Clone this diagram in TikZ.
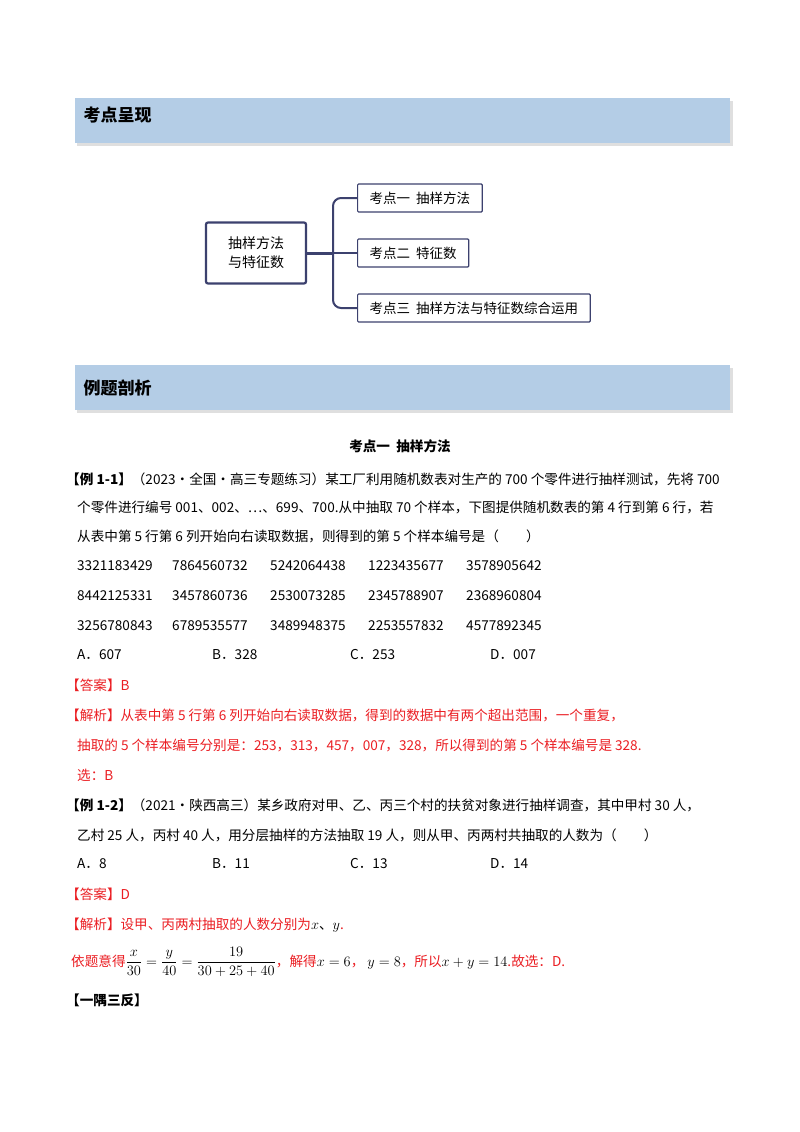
\documentclass[tikz,border=0pt]{standalone}
\usepackage{amsmath}
\usepackage{fontspec}
\setmainfont{Liberation Serif}
\newfontfamily\cjk{Noto Sans CJK SC}
\definecolor{barblue}{RGB}{180,205,230}
\definecolor{navy}{RGB}{60,65,110}
\definecolor{ansred}{RGB}{235,30,35}
\begin{document}
\begin{tikzpicture}[x=1pt,y=-1pt,
  bar/.style={fill=barblue,draw=none},
  bartxt/.style={anchor=west,font=\cjk\bfseries\fontsize{17}{17}\selectfont},
  ln/.style={anchor=west,inner sep=0pt,font=\cjk\fontsize{13.6}{15}\selectfont},
  rd/.style={ln,text=ansred},
  kbox/.style={draw=navy,line width=1.2pt,rounded corners=1pt,fill=white,anchor=west,minimum height=28pt,inner xsep=12pt,font=\cjk\fontsize{13.5}{15}\selectfont},
  br/.style={draw=navy,line width=2pt,rounded corners=8pt}]
\useasboundingbox (0,0) rectangle (800,1132);
\fill[white] (0,0) rectangle (800,1132);
% header bars
\fill[gray!25] (77,101) rectangle (733,146);
\fill[bar] (75,98) rectangle (730,143);
\node[bartxt] (h1) at (80,115) {考点呈现};
\fill[gray!25] (77,368) rectangle (733,413);
\fill[bar] (75,365) rectangle (730,410);
\node[bartxt] (h2) at (80,388) {例题剖析};
% mindmap
\node[draw=navy,line width=2.2pt,rounded corners=2pt,minimum width=100pt,minimum height=61pt,align=center,font=\cjk\fontsize{14}{19}\selectfont] (c) at (256,253) {抽样方法\\与特征数};
\node[kbox] (k1) at (357,198) {考点一\ \ 抽样方法};
\node[kbox] (k2) at (357,253) {考点二\ \ 特征数};
\node[kbox] (k3) at (357,308) {考点三\ \ 抽样方法与特征数综合运用};
\coordinate (j) at (333,253);
\draw[br] (k1.west) -| (j) |- (k3.west);
\draw[navy,line width=3pt] (c.east) -- (j);
\draw[navy,line width=1.5pt] (j) -- (k2.west);
% body
\node[ln,font=\cjk\bfseries\fontsize{13.6}{15}\selectfont,anchor=center] (t1) at (400,446) {考点一\ \ 抽样方法};
\node[ln] (l1) at (66,479) {\textbf{【例 1-1】}（2023·全国·高三专题练习）某工厂利用随机数表对生产的 700 个零件进行抽样测试，先将 700};
\node[ln] (l2) at (77,507) {个零件进行编号 001、002、…、699、700.从中抽取 70 个样本，下图提供随机数表的第 4 行到第 6 行，若};
\node[ln] (l3) at (77,536) {从表中第 5 行第 6 列开始向右读取数据，则得到的第 5 个样本编号是（\qquad）};
\foreach \r/\y/\a/\b/\c/\d/\e in {0/566/3321183429/7864560732/5242064438/1223435677/3578905642,
  1/596/8442125331/3457860736/2530073285/2345788907/2368960804,
  2/626/3256780843/6789535577/3489948375/2253557832/4577892345}{
  \node[ln] (r\r a) at (77,\y) {\a};
  \node[ln] (r\r b) at (172,\y) {\b};
  \node[ln] (r\r c) at (270,\y) {\c};
  \node[ln] (r\r d) at (368,\y) {\d};
  \node[ln] (r\r e) at (466,\y) {\e};
}
\node[ln] (o1) at (77,655) {A．607};
\node[ln] (o2) at (212,655) {B．328};
\node[ln] (o3) at (350,655) {C．253};
\node[ln] (o4) at (490,655) {D．007};
\node[rd] (a1) at (66,685) {【答案】B};
\node[rd] (a2) at (66,715) {【解析】从表中第 5 行第 6 列开始向右读取数据，得到的数据中有两个超出范围，一个重复，};
\node[rd] (a3) at (77,745) {抽取的 5 个样本编号分别是：253，313，457，007，328，所以得到的第 5 个样本编号是 328.};
\node[rd] (a4) at (77,775) {选：B};
\node[ln] (l4) at (66,805) {\textbf{【例 1-2】}（2021·陕西高三）某乡政府对甲、乙、丙三个村的扶贫对象进行抽样调查，其中甲村 30 人，};
\node[ln] (l5) at (77,835) {乙村 25 人，丙村 40 人，用分层抽样的方法抽取 19 人，则从甲、丙两村共抽取的人数为（\qquad）};
\node[ln] (p1) at (77,864) {A．8};
\node[ln] (p2) at (212,864) {B．11};
\node[ln] (p3) at (350,864) {C．13};
\node[ln] (p4) at (490,864) {D．14};
\node[rd] (b1) at (66,894) {【答案】D};
\node[rd] (b2) at (66,925) {【解析】设甲、丙两村抽取的人数分别为\textcolor{black}{$x$、$y$}.};
\node[rd] (b3) at (71,962) {依题意得\textcolor{black}{$\dfrac{x}{30}=\dfrac{y}{40}=\dfrac{19}{30+25+40}$}，解得\textcolor{black}{$x=6$}，\ \textcolor{black}{$y=8$}，所以\textcolor{black}{$x+y=14$}.故选：D.};
\node[ln,font=\cjk\bfseries\fontsize{13.6}{15}\selectfont] (l6) at (66,1000) {【一隅三反】};
\end{tikzpicture}
\end{document}
